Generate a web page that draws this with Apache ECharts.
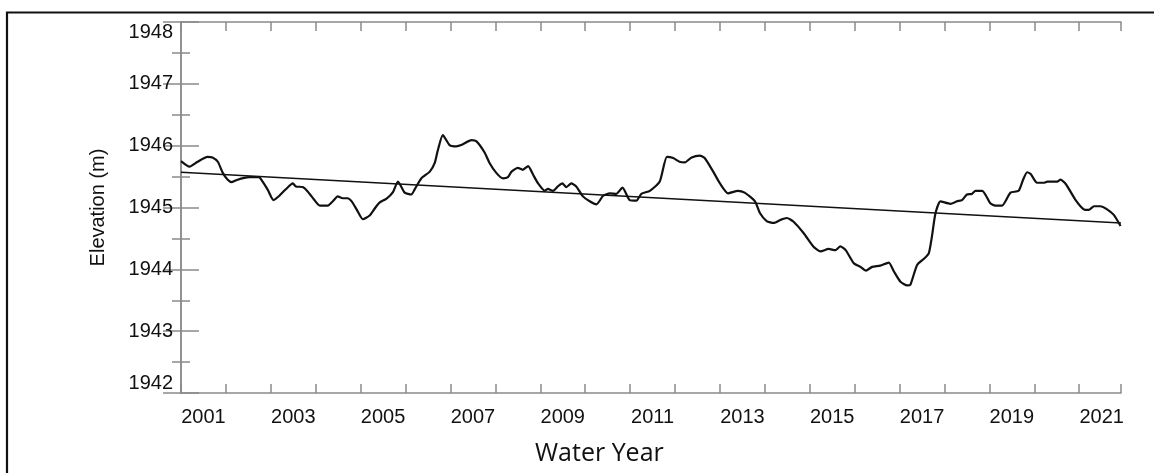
<!DOCTYPE html>
<html>
<head>
<meta charset="utf-8">
<script src="https://cdn.jsdelivr.net/npm/echarts@6/dist/echarts.min.js"></script>
<style>
html,body{margin:0;padding:0;background:#fff;}
#chart{width:1154px;height:473px;}
</style>
</head>
<body>
<div id="chart"></div>
<script>
// Years since start of water year 2001 (Oct 2000)
const tYears = [0.00,0.19,0.37,0.59,0.70,0.82,0.93,1.04,1.13,1.26,1.41,1.53,1.74,1.78,1.93,2.06,2.19,2.34,2.49,2.56,2.71,2.82,2.97,3.09,3.27,3.38,3.49,3.60,3.71,3.80,3.91,4.05,4.20,4.31,4.42,4.57,4.72,4.83,4.98,5.13,5.20,5.35,5.54,5.65,5.72,5.83,5.98,6.13,6.24,6.47,6.58,6.76,6.87,7.02,7.17,7.28,7.36,7.50,7.61,7.73,7.84,7.95,8.10,8.17,8.28,8.39,8.49,8.58,8.69,8.80,8.95,9.10,9.25,9.40,9.55,9.69,9.83,9.99,10.14,10.25,10.44,10.66,10.82,10.96,11.10,11.22,11.37,11.55,11.66,11.85,12.00,12.18,12.40,12.55,12.78,12.89,13.04,13.20,13.35,13.49,13.64,13.87,14.09,14.24,14.42,14.57,14.68,14.80,14.98,15.13,15.25,15.39,15.57,15.76,15.87,16.02,16.17,16.24,16.39,16.54,16.65,16.72,16.80,16.91,17.13,17.28,17.39,17.50,17.61,17.69,17.84,18.02,18.13,18.28,18.47,18.65,18.75,18.84,18.92,19.06,19.21,19.29,19.51,19.58,19.70,19.92,20.10,20.21,20.33,20.47,20.62,20.77,20.92];
const elevation = [1945.75,1945.66,1945.74,1945.82,1945.81,1945.74,1945.56,1945.45,1945.41,1945.45,1945.48,1945.49,1945.49,1945.46,1945.29,1945.12,1945.19,1945.30,1945.39,1945.34,1945.33,1945.26,1945.12,1945.03,1945.03,1945.10,1945.18,1945.15,1945.15,1945.10,1944.97,1944.81,1944.87,1944.98,1945.08,1945.14,1945.25,1945.42,1945.24,1945.21,1945.29,1945.47,1945.58,1945.72,1945.93,1946.17,1946.01,1945.99,1946.01,1946.09,1946.07,1945.89,1945.72,1945.56,1945.47,1945.49,1945.58,1945.64,1945.61,1945.67,1945.53,1945.39,1945.27,1945.30,1945.27,1945.34,1945.39,1945.33,1945.39,1945.34,1945.18,1945.10,1945.05,1945.19,1945.23,1945.22,1945.32,1945.12,1945.11,1945.22,1945.27,1945.42,1945.82,1945.80,1945.74,1945.73,1945.81,1945.84,1945.80,1945.58,1945.39,1945.23,1945.27,1945.24,1945.10,1944.91,1944.78,1944.75,1944.80,1944.83,1944.77,1944.58,1944.36,1944.29,1944.33,1944.31,1944.37,1944.31,1944.10,1944.04,1943.98,1944.04,1944.06,1944.11,1943.97,1943.80,1943.74,1943.75,1944.07,1944.17,1944.26,1944.53,1944.91,1945.10,1945.06,1945.10,1945.12,1945.21,1945.22,1945.27,1945.27,1945.07,1945.03,1945.03,1945.24,1945.27,1945.45,1945.57,1945.54,1945.40,1945.40,1945.42,1945.42,1945.45,1945.38,1945.12,1944.97,1944.96,1945.02,1945.02,1944.97,1944.88,1944.70];
const trendX = [0, 20.93];
const trendY = [1945.57, 1944.75];
const waterYearLabels = ['2001','2003','2005','2007','2009','2011','2013','2015','2017','2019','2021'];
const yTicks = [1942, 1943, 1944, 1945, 1946, 1947, 1948];

const X_MAX = 20.93;
const axisGray = '#8a8a8a';
const font = 'Liberation Sans, Arial, sans-serif';
const textColor = '#111';

const chart = echarts.init(document.getElementById('chart'), null, {renderer: 'canvas'});

const tickAxisX = (pos) => ({
  type: 'value', position: pos, min: 0, max: X_MAX, interval: 1,
  axisLine: {show: true, lineStyle: {color: axisGray, width: 1.5}},
  axisTick: {show: true, inside: true, length: 9, lineStyle: {color: axisGray, width: 1.5}},
  axisLabel: {show: false}, splitLine: {show: false}
});
const tickAxisY = (pos, labels) => ({
  type: 'value', position: pos, min: yTicks[0], max: yTicks[yTicks.length - 1], interval: 1,
  axisLine: {show: true, lineStyle: {color: axisGray, width: 1.5}},
  axisTick: {show: true, inside: true, length: 18, lineStyle: {color: axisGray, width: 1.5}},
  minorTick: {show: true, splitNumber: 2, length: 9, lineStyle: {color: axisGray, width: 1.5}},
  splitLine: {show: false}, minorSplitLine: {show: false},
  axisLabel: labels ? {
    show: true, margin: 8, fontSize: 20, fontFamily: font, color: textColor,
    verticalAlignMinLabel: 'bottom', verticalAlignMaxLabel: 'top',
    formatter: function (v) { return String(Math.round(v)); }
  } : {show: false}
});

const yLeft = tickAxisY('left', true);
yLeft.name = 'Elevation (m)';
yLeft.nameLocation = 'middle';
yLeft.nameRotate = 90;
yLeft.nameGap = 73;
yLeft.nameTextStyle = {fontSize: 20, fontFamily: font, color: textColor};

chart.setOption({
  animation: false,
  backgroundColor: '#fff',
  grid: {left: 181, right: 33, top: 22, bottom: 80, containLabel: false},
  xAxis: [
    tickAxisX('bottom'),
    {
      type: 'value', position: 'bottom', min: 0, max: X_MAX, interval: 0.5,
      axisLine: {show: false}, axisTick: {show: false}, splitLine: {show: false},
      axisLabel: {
        show: true, margin: 14, fontSize: 20, fontFamily: font, color: textColor,
        showMaxLabel: false,
        formatter: function (v) {
          const k = Math.round((v - 0.5) * 2) / 2;
          if (k < 0 || Math.abs(k % 2) > 1e-6 || Math.abs((v - 0.5) - k) > 1e-6) return '';
          return waterYearLabels[k / 2] || '';
        }
      }
    },
    tickAxisX('top')
  ],
  yAxis: [yLeft, tickAxisY('right', false)],
  graphic: [
    {type: 'rect', silent: true, z: 100,
     shape: {x: 7, y: 12.5, width: 1200, height: 600},
     style: {fill: 'none', stroke: '#111', lineWidth: 2.2}},
    {type: 'text', silent: true, x: 535, y: 454,
     style: {text: 'Water Year', fill: textColor, font: '25px "Open Sans", sans-serif',
             textAlign: 'left', textVerticalAlign: 'middle'}}
  ],
  series: [
    {
      type: 'line', xAxisIndex: 0, yAxisIndex: 0, symbol: 'none', smooth: 0.2,
      data: tYears.map((t, i) => [t, elevation[i]]),
      lineStyle: {color: '#111', width: 2.2}
    },
    {
      type: 'line', xAxisIndex: 0, yAxisIndex: 0, symbol: 'none',
      data: trendX.map((t, i) => [t, trendY[i]]),
      lineStyle: {color: '#111', width: 1.6}
    }
  ]
});
</script>
</body>
</html>
